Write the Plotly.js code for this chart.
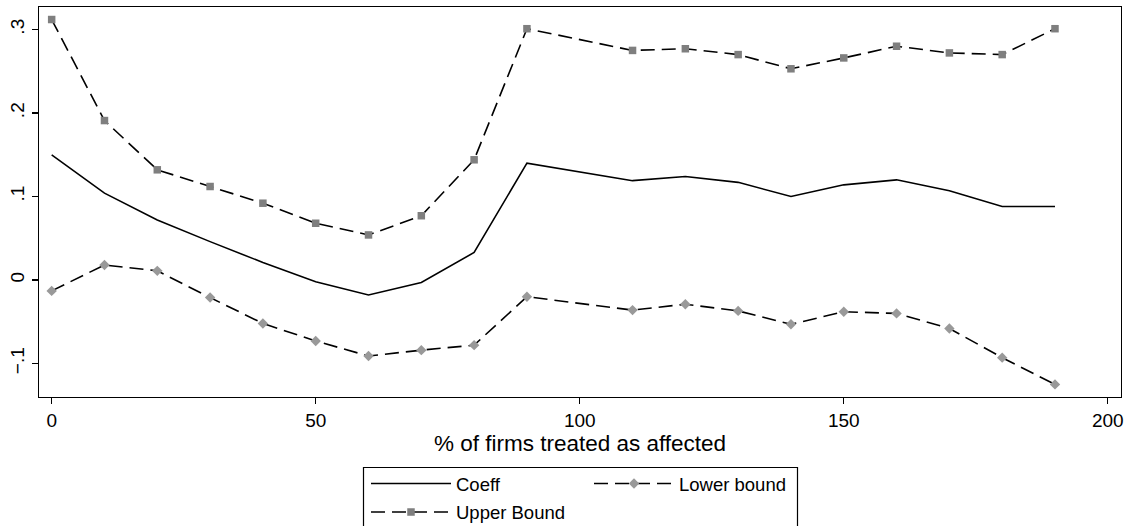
<!DOCTYPE html>
<html>
<head>
<meta charset="utf-8">
<script src="https://cdn.plot.ly/plotly-3.0.1.min.js"></script>
<style>
html,body{margin:0;padding:0;background:#fff;}
#chart{width:1129px;height:526px;}
</style>
</head>
<body>
<div id="chart"></div>
<script>
// ---- data ----
var pctTreated = [0, 10, 20, 30, 40, 50, 60, 70, 80, 90, 110, 120, 130, 140, 150, 160, 170, 180, 190];
var coeff = [0.150, 0.104, 0.072, 0.046, 0.021, -0.002, -0.018, -0.003, 0.033, 0.140, 0.119, 0.124, 0.117, 0.100, 0.114, 0.120, 0.107, 0.088, 0.088];
var lowerBound = [-0.013, 0.018, 0.011, -0.021, -0.052, -0.073, -0.091, -0.084, -0.078, -0.020, -0.036, -0.029, -0.037, -0.053, -0.038, -0.040, -0.058, -0.093, -0.125];
var upperBound = [0.312, 0.191, 0.132, 0.112, 0.092, 0.068, 0.054, 0.077, 0.144, 0.301, 0.275, 0.277, 0.270, 0.253, 0.266, 0.280, 0.272, 0.270, 0.301];
var yTickVals = [-0.1, 0, 0.1, 0.2, 0.3];
var yTickText = ['\u2212.1', '0', '.1', '.2', '.3'];
var xTickVals = [0, 50, 100, 150, 200];
var seriesNames = ['Coeff', 'Lower bound', 'Upper Bound'];
var xTitle = '% of firms treated as affected';

var FONT = 'Liberation Sans, Arial, Helvetica, sans-serif';

var traces = [
  {
    x: pctTreated, y: coeff, name: seriesNames[0], type: 'scatter', mode: 'lines',
    line: {color: '#000', width: 1.6},
    legend: 'legend'
  },
  {
    x: pctTreated, y: lowerBound, name: seriesNames[1], type: 'scatter', mode: 'lines+markers',
    line: {color: '#000', width: 1.6, dash: '14px,7px'},
    marker: {symbol: 'diamond', size: 8, color: '#999999', line: {width: 0}},
    legend: 'legend'
  },
  {
    x: pctTreated, y: upperBound, name: seriesNames[2], type: 'scatter', mode: 'lines+markers',
    line: {color: '#000', width: 1.6, dash: '14px,7px'},
    marker: {symbol: 'square', size: 7.5, color: '#7f7f7f', line: {width: 0}},
    legend: 'legend2'
  }
];

var plotL = 39, plotR = 1121, plotT = 7, plotB = 397;
var W = 1129, H = 526;
function px2paperX(p){ return (p - plotL) / (plotR - plotL); }
function px2paperY(p){ return (plotB - p) / (plotB - plotT); }

var layout = {
  width: W, height: H,
  margin: {l: plotL, r: W - plotR, t: plotT, b: H - plotB, pad: 0, autoexpand: false},
  paper_bgcolor: '#fff', plot_bgcolor: '#fff',
  font: {family: FONT, size: 18, color: '#000'},
  showlegend: true,
  xaxis: {
    range: [-2.4, 202.5],
    tickmode: 'array', tickvals: xTickVals,
    ticks: 'outside', ticklen: 6, tickwidth: 1.2, tickcolor: '#000',
    showgrid: false, zeroline: false, automargin: false,
    showline: true, linecolor: '#000', linewidth: 1.4, mirror: true,
    tickfont: {family: FONT, size: 19, color: '#000'},
    title: {text: xTitle, font: {family: FONT, size: 22.5, color: '#000'}, standoff: 1}
  },
  yaxis: {
    range: [-0.1401, 0.3270],
    tickmode: 'array', tickvals: yTickVals, ticktext: yTickText,
    tickangle: -90, automargin: false,
    ticks: 'outside', ticklen: 6, tickwidth: 1.2, tickcolor: '#000',
    showgrid: false, zeroline: false,
    showline: true, linecolor: '#000', linewidth: 1.4, mirror: true,
    tickfont: {family: FONT, size: 19, color: '#000'}
  },
  legend: {
    orientation: 'h',
    x: px2paperX(366), xanchor: 'left',
    y: px2paperY(465), yanchor: 'top',
    bgcolor: 'rgba(0,0,0,0)', borderwidth: 0,
    itemwidth: 80, entrywidth: 128,
    font: {family: FONT, size: 18.5, color: '#000'},
    itemclick: false
  },
  legend2: {
    orientation: 'h',
    x: px2paperX(366), xanchor: 'left',
    y: px2paperY(493.5), yanchor: 'top',
    bgcolor: 'rgba(0,0,0,0)', borderwidth: 0,
    itemwidth: 80,
    font: {family: FONT, size: 18.5, color: '#000'},
    itemclick: false
  },
  shapes: [
    {
      type: 'rect', xref: 'paper', yref: 'paper', layer: 'above',
      x0: px2paperX(363.5), x1: px2paperX(797.5),
      y0: px2paperY(467.5), y1: px2paperY(540),
      line: {color: '#000', width: 1.2}, fillcolor: 'rgba(0,0,0,0)'
    }
  ]
};

Plotly.newPlot('chart', traces, layout, {staticPlot: true, displayModeBar: false});
</script>
</body>
</html>
